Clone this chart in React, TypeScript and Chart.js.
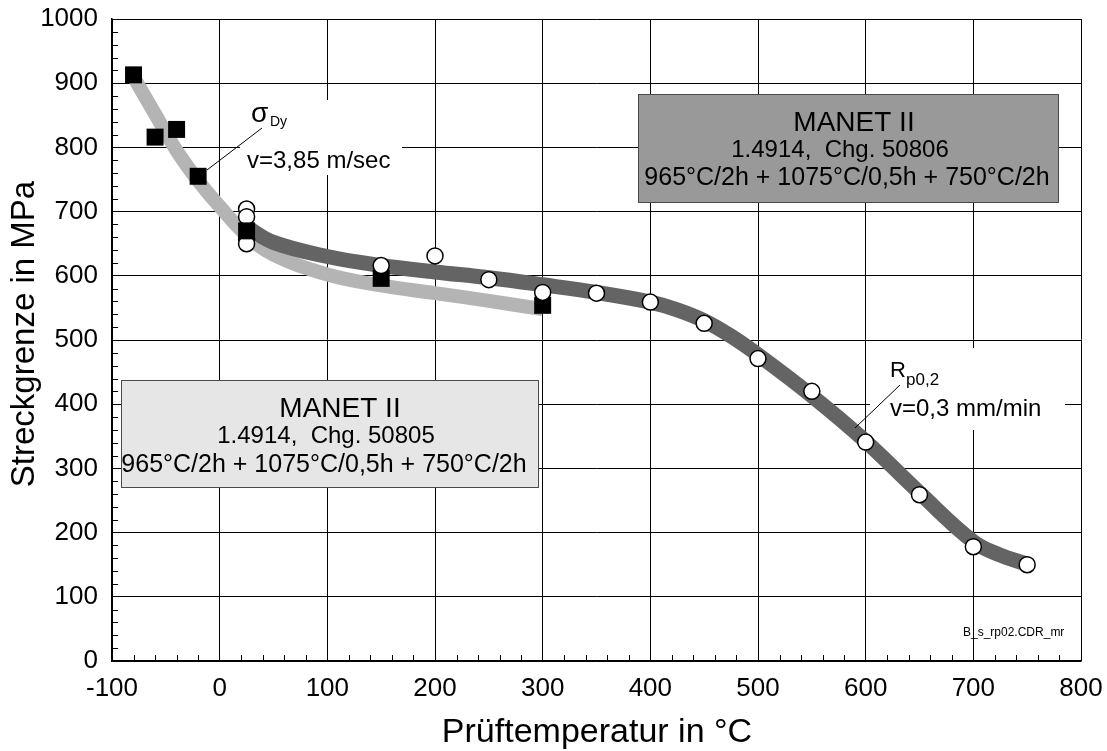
import React, { useEffect, useRef } from 'react';
import { Chart, registerables } from 'chart.js';

Chart.register(...registerables);

const FONT = '"Liberation Sans", Arial, Helvetica, sans-serif';

// Axis ranges and tick labels
const xTicks = [-100, 0, 100, 200, 300, 400, 500, 600, 700, 800];
const yTicks = [0, 100, 200, 300, 400, 500, 600, 700, 800, 900, 1000];

// Dynamic yield strength σDy (v = 3,85 m/sec), Chg. 50805
const dyTemps = [-80, -60, -40, -20, 25, 150, 300];
const dyValues = [913, 816, 828, 755, 670, 596, 554];

// Fitted σDy curve
const dyCurveTemps = [-80, -60, -40, -20, 0, 25, 50, 100, 150, 200, 250, 300];
const dyCurveValues = [910, 852, 795, 748, 708, 663, 633, 602, 585, 573, 561, 548];

// Proof stress Rp0,2 (v = 0,3 mm/min), Chg. 50806
const rpRoomTemp = 25;
const rpRoomValues = [704, 692, 656, 650];
const rpTemps = [150, 200, 250, 300, 350, 400, 450, 500, 550, 600, 650, 700, 750];
const rpValues = [616, 631, 594, 574, 573, 559, 526, 471, 420, 341, 259, 178, 150];

// Fitted Rp0,2 curve
const rpCurveTemps = [25, 50, 100, 150, 200, 250, 300, 350, 400, 425, 450, 475, 500, 550, 600, 650, 700, 725, 750];
const rpCurveValues = [676, 652, 630, 616, 606, 597, 586, 574, 559, 547, 530, 506, 477, 413, 342, 262, 186, 165, 151];

const pts = (xs: number[], ys: number[]) => xs.map((x, i) => ({ x, y: ys[i] }));

const line = (ctx: CanvasRenderingContext2D, x1: number, y1: number, x2: number, y2: number) => {
  ctx.beginPath();
  ctx.moveTo(x1, y1);
  ctx.lineTo(x2, y2);
  ctx.stroke();
};

const text = (
  ctx: CanvasRenderingContext2D,
  s: string,
  x: number,
  y: number,
  size: number,
  align: CanvasTextAlign = 'left'
) => {
  ctx.font = `${size}px ${FONT}`;
  ctx.textAlign = align;
  ctx.textBaseline = 'alphabetic';
  ctx.fillStyle = '#000';
  ctx.fillText(s, x, y);
};

// keep the plot area fixed: no extra room for edge labels
const noEdgePadding = (s: any) => {
  s.paddingTop = 0;
  s.paddingBottom = 0;
  s.paddingLeft = 0;
  s.paddingRight = 0;
};

const decor = {
  id: 'decor',
  beforeDatasetsDraw(chart: any) {
    const { ctx, chartArea, scales } = chart;
    const xs = scales.x;
    const ys = scales.y;
    ctx.save();
    // inward minor ticks
    ctx.strokeStyle = '#000';
    ctx.lineWidth = 1;
    for (let v = 20; v < 1000; v += 20) {
      if (v % 100 === 0) continue;
      const py = Math.round(ys.getPixelForValue(v)) + 0.5;
      line(ctx, chartArea.left, py, chartArea.left + 6, py);
    }
    for (let v = -80; v < 800; v += 20) {
      if (v % 100 === 0) continue;
      const px = Math.round(xs.getPixelForValue(v)) + 0.5;
      line(ctx, px, chartArea.bottom, px, chartArea.bottom - 6);
    }
    // label backgrounds
    ctx.fillStyle = '#fff';
    ctx.fillRect(240, 100, 162, 75);
    ctx.fillRect(870, 348, 195, 82);
    // material boxes
    ctx.lineWidth = 1;
    ctx.strokeStyle = '#4a4a4a';
    ctx.fillStyle = '#e6e6e6';
    ctx.fillRect(121, 380, 417, 107);
    ctx.strokeRect(121.5, 380.5, 417, 107);
    ctx.fillStyle = '#999999';
    ctx.fillRect(638, 94, 420, 108);
    ctx.strokeRect(638.5, 94.5, 420, 108);
    ctx.restore();
  },
  afterDatasetsDraw(chart: any) {
    const { ctx } = chart;
    ctx.save();
    // box texts
    text(ctx, 'MANET II', 340, 417, 28, 'center');
    text(ctx, '1.4914,  Chg. 50805', 326, 443, 24, 'center');
    text(ctx, '965°C/2h + 1075°C/0,5h + 750°C/2h', 324, 472, 25, 'center');
    text(ctx, 'MANET II', 854, 131, 28, 'center');
    text(ctx, '1.4914,  Chg. 50806', 840, 157, 24, 'center');
    text(ctx, '965°C/2h + 1075°C/0,5h + 750°C/2h', 847, 185, 25, 'center');

    // curve labels
    text(ctx, 'σ', 251, 122, 28);
    text(ctx, 'Dy', 270, 126, 14);
    text(ctx, 'v=3,85 m/sec', 247, 168, 24);
    text(ctx, 'R', 890, 377, 22);
    text(ctx, 'p0,2', 906, 385, 17);
    text(ctx, 'v=0,3 mm/min', 890, 416, 24);
    text(ctx, 'B_s_rp02.CDR_mr', 963, 636, 12);

    ctx.strokeStyle = '#000';
    ctx.lineWidth = 1;
    line(ctx, 262, 128, 207, 170);
    line(ctx, 900, 385, 855, 428);

    // axis titles
    text(ctx, 'Prüftemperatur in °C', 597, 742, 34, 'center');
    ctx.save();
    ctx.translate(34, 334);
    ctx.rotate(-Math.PI / 2);
    text(ctx, 'Streckgrenze in MPa', 0, 0, 33, 'center');
    ctx.restore();
    ctx.restore();
  },
};

export default function App() {
  const ref = useRef<HTMLCanvasElement>(null);

  useEffect(() => {
    const canvas = ref.current;
    if (!canvas) return;
    const chart = new Chart(canvas, {
      type: 'scatter',
      data: {
        datasets: [
          {
            label: 'σDy Kurve',
            data: pts(dyCurveTemps, dyCurveValues),
            showLine: true,
            borderColor: '#b4b4b4',
            borderWidth: 14,
            borderCapStyle: 'butt',
            pointRadius: 0,
            tension: 0.4,
            order: 6,
          },
          {
            label: 'Rp0,2 Kurve',
            data: pts(rpCurveTemps, rpCurveValues),
            showLine: true,
            borderColor: '#646464',
            borderWidth: 15,
            borderCapStyle: 'butt',
            pointRadius: 0,
            tension: 0.4,
            order: 5,
          },
          {
            label: 'Rp0,2 RT',
            data: rpRoomValues.map((y) => ({ x: rpRoomTemp, y })),
            pointStyle: 'circle',
            pointRadius: 8,
            pointBackgroundColor: '#fff',
            pointBorderColor: '#000',
            pointBorderWidth: 1.5,
            order: 4,
          },
          {
            label: 'σDy',
            data: pts(dyTemps, dyValues),
            pointStyle: 'rect',
            pointRadius: 12,
            pointBackgroundColor: '#000',
            pointBorderColor: '#000',
            pointBorderWidth: 0,
            order: 3,
          },
          {
            label: 'Rp0,2',
            data: pts(rpTemps, rpValues),
            pointStyle: 'circle',
            pointRadius: 8,
            pointBackgroundColor: '#fff',
            pointBorderColor: '#000',
            pointBorderWidth: 1.5,
            order: 2,
          },
        ] as any,
      },
      options: {
        responsive: false,
        animation: false,
        devicePixelRatio: 1,
        events: [],
        layout: { padding: { left: 0, top: 19, right: 26, bottom: 0 } },
        plugins: { legend: { display: false }, tooltip: { enabled: false } },
        scales: {
          x: {
            type: 'linear',
            min: xTicks[0],
            max: xTicks[xTicks.length - 1],
            afterBuildTicks: (s: any) => {
              s.ticks = xTicks.map((value) => ({ value }));
            },
            afterFit: (s: any) => {
              s.height = 90;
              noEdgePadding(s);
            },
            ticks: {
              color: '#000',
              padding: 12,
              maxRotation: 0,
              autoSkip: false,
              font: { family: FONT, size: 26 },
              callback: (v: any) => String(v),
            },
            grid: { color: '#000', lineWidth: 1, drawTicks: false },
            border: { color: '#000', width: 1.5 },
          },
          y: {
            type: 'linear',
            min: yTicks[0],
            max: yTicks[yTicks.length - 1],
            afterBuildTicks: (s: any) => {
              s.ticks = yTicks.map((value) => ({ value }));
            },
            afterFit: (s: any) => {
              s.width = 112;
              noEdgePadding(s);
            },
            ticks: {
              color: '#000',
              padding: 14,
              autoSkip: false,
              font: { family: FONT, size: 26 },
              callback: (v: any) => String(v),
            },
            grid: { color: '#000', lineWidth: 1, drawTicks: false },
            border: { color: '#000', width: 1.5 },
          },
        },
      } as any,
      plugins: [decor],
    });
    return () => chart.destroy();
  }, []);

  return (
    <canvas
      ref={ref}
      width={1107}
      height={751}
      style={{ position: 'absolute', left: 0, top: 0, width: 1107, height: 751, background: '#fff' }}
    />
  );
}
